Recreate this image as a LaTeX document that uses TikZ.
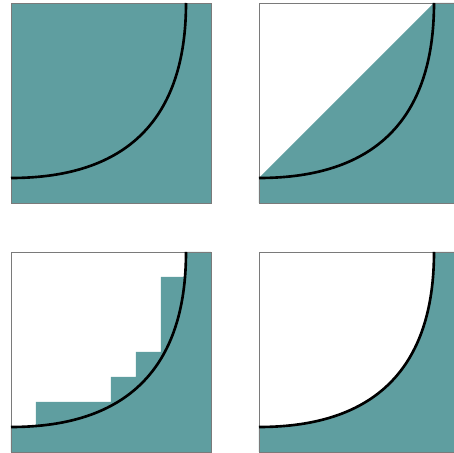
\documentclass[tikz,border=0pt]{standalone}
\usepackage{xcolor}
\definecolor{tealFill}{HTML}{5F9EA0}
\definecolor{frameGray}{HTML}{7A7A7A}
\usepackage{tikz}
\usetikzlibrary{calc}

\begin{document}
\begin{tikzpicture}[
        x=0.5cm, y=0.5cm,
        regionFill/.style={
            fill=tealFill,
            draw=none
        },
        frameLine/.style={
            draw=frameGray,
            line width=0.5pt
        },
        curveLine/.style={
            draw=black,
            line width=1.5pt
        }
    ]
    \useasboundingbox (0,0) rectangle (18.16,18.12);

    % Top left: whole square filled
    \begin{scope}[shift={(0.44,10)}]
        \fill[regionFill] (0,0) rectangle (8,8);
        \draw[frameLine] (0,0) rectangle (8,8);
        \draw[curveLine] (0,1) .. controls (4.64,1) and (7,3.36) .. (7,8);
    \end{scope}

    % Top right: triangle under the diagonal
    \begin{scope}[shift={(10.36,10)}]
        \fill[regionFill] (0,0) -- (8,0) -- (8,8) -- (7,8) -- (0,1) -- cycle;
        \draw[frameLine] (0,0) rectangle (8,8);
        \draw[curveLine] (0,1) .. controls (4.64,1) and (7,3.36) .. (7,8);
    \end{scope}

    % Bottom left: staircase
    \begin{scope}[shift={(0.44,0.04)}]
        \fill[regionFill] (0,0) -- (8,0) -- (8,8) -- (7,8) -- (7,7) -- (6,7) -- (6,4)
            -- (5,4) -- (5,3) -- (4,3) -- (4,2) -- (1,2) -- (1,1) -- (0,1) -- cycle;
        \draw[frameLine] (0,0) rectangle (8,8);
        \draw[curveLine] (0,1) .. controls (4.64,1) and (7,3.36) .. (7,8);
    \end{scope}

    % Bottom right: region under the curve
    \begin{scope}[shift={(10.36,0.04)}]
        \fill[regionFill] (0,0) -- (8,0) -- (8,8) -- (7,8)
            .. controls (7,3.36) and (4.64,1) .. (0,1) -- cycle;
        \draw[frameLine] (0,0) rectangle (8,8);
        \draw[curveLine] (0,1) .. controls (4.64,1) and (7,3.36) .. (7,8);
    \end{scope}

\end{tikzpicture}
\end{document}
